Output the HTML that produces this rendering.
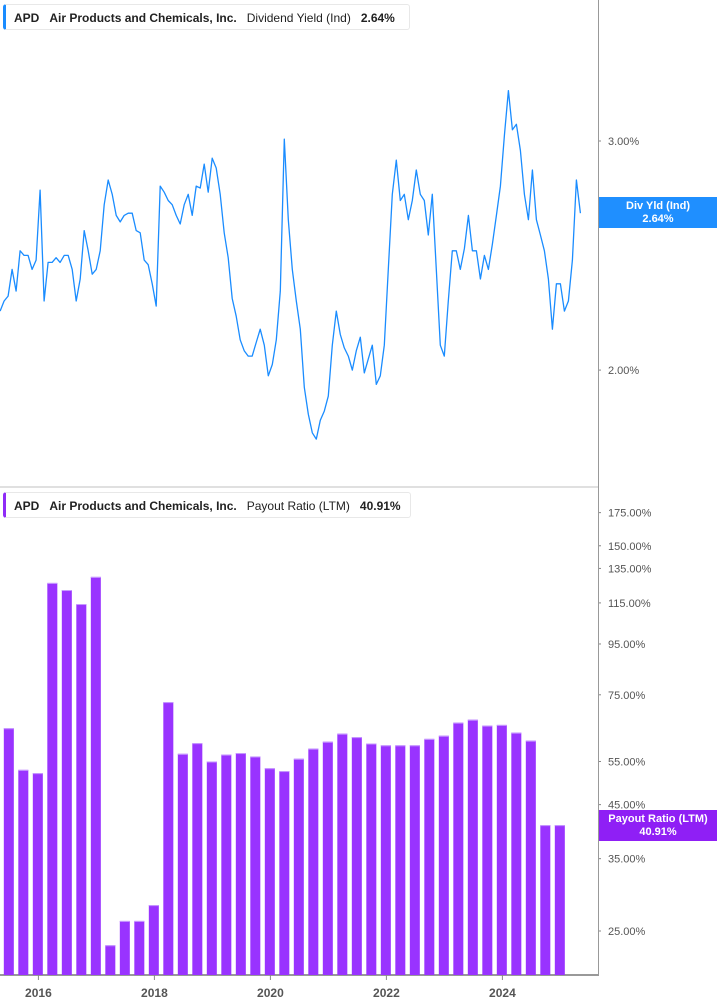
<!DOCTYPE html>
<html><head><meta charset="utf-8">
<style>
html,body{margin:0;padding:0;background:#fff;}
body{width:717px;height:1005px;position:relative;overflow:hidden;font-family:"Liberation Sans",sans-serif;}
.legend{position:absolute;left:3px;height:26px;background:#fff;border:1px solid #e8e8e8;border-left:3px solid #1a8cff;border-radius:3px;font-size:12px;line-height:26px;color:#222;white-space:nowrap;padding:0 10px 0 8px;box-sizing:border-box;}
.legend b{font-weight:bold;}
.lab{position:absolute;left:599px;width:118px;color:#fff;font-size:11px;font-weight:bold;text-align:center;line-height:13px;padding-top:3px;box-sizing:border-box;}
</style></head><body>
<svg id="chart" width="717" height="1005" style="position:absolute;left:0;top:0" xmlns="http://www.w3.org/2000/svg">
  <g id="topPanel"></g>
  <g id="botPanel"></g>
</svg>
<div class="legend" style="top:4px;width:407px;"><b>APD</b>&nbsp;&nbsp;&nbsp;<b>Air Products and Chemicals, Inc.</b>&nbsp;&nbsp;&nbsp;Dividend Yield (Ind)&nbsp;&nbsp;&nbsp;<b>2.64%</b></div>
<div class="legend" style="top:492px;width:408px;border-left-color:#8f2bf7;"><b>APD</b>&nbsp;&nbsp;&nbsp;<b>Air Products and Chemicals, Inc.</b>&nbsp;&nbsp;&nbsp;Payout Ratio (LTM)&nbsp;&nbsp;&nbsp;<b>40.91%</b></div>
<div class="lab" style="top:197px;height:31px;background:#1f8fff;">Div Yld (Ind)<br>2.64%</div>
<div class="lab" style="top:810px;height:31px;background:#8f1ff5;">Payout Ratio (LTM)<br>40.91%</div>
<script>
const yieldValues=[2.22,2.26,2.28,2.39,2.30,2.47,2.45,2.45,2.39,2.43,2.75,2.26,2.42,2.42,2.44,2.42,2.45,2.45,2.39,2.26,2.35,2.56,2.47,2.37,2.39,2.47,2.68,2.80,2.73,2.63,2.60,2.63,2.64,2.64,2.56,2.55,2.43,2.41,2.33,2.24,2.77,2.74,2.70,2.68,2.63,2.59,2.68,2.73,2.63,2.77,2.76,2.88,2.74,2.91,2.86,2.73,2.55,2.44,2.27,2.20,2.11,2.07,2.05,2.05,2.10,2.15,2.09,1.98,2.02,2.11,2.30,3.01,2.61,2.39,2.26,2.15,1.94,1.85,1.79,1.77,1.83,1.86,1.91,2.09,2.22,2.13,2.08,2.05,2.00,2.07,2.12,1.99,2.04,2.09,1.95,1.98,2.09,2.39,2.73,2.90,2.70,2.73,2.61,2.70,2.85,2.73,2.70,2.54,2.73,2.39,2.09,2.05,2.26,2.47,2.47,2.39,2.48,2.63,2.47,2.47,2.35,2.45,2.39,2.50,2.63,2.77,3.03,3.28,3.06,3.09,2.95,2.73,2.61,2.85,2.61,2.54,2.47,2.35,2.15,2.33,2.33,2.22,2.26,2.43,2.80,2.64];
const yieldStart=2015.34, yieldStep=0.069;
const yieldTicks=[2.0,3.0];
const yieldTickLabels=["2.00%","3.00%"];
const payoutValues=[64.2,52.9,52.1,126.2,122.1,114.4,129.8,23.4,26.2,26.2,28.2,72.5,57.0,59.9,55.0,56.8,57.2,56.3,53.3,52.6,55.7,58.4,60.3,62.6,61.6,59.8,59.3,59.3,59.3,61.1,62.0,65.9,66.8,65.0,65.2,62.9,60.6,40.91,40.91];
const payoutStart=2015.49, payoutStep=0.25;
const payoutTicks=[175,150,135,115,95,75,55,45,35,25];
const payoutTickLabels=["175.00%","150.00%","135.00%","115.00%","95.00%","75.00%","55.00%","45.00%","35.00%","25.00%"];
const yearTicks=[2016,2018,2020,2022,2024];

const NS="http://www.w3.org/2000/svg";
function mk(tag,attrs,parent){const e=document.createElementNS(NS,tag);for(const k in attrs)e.setAttribute(k,attrs[k]);parent.appendChild(e);return e;}
const xT=t=>38.4+(t-2016)*58;
const yTop=v=>141-565*Math.log(v/3);
const yBot=v=>931-215*Math.log(v/25);
const topG=document.getElementById('topPanel'), botG=document.getElementById('botPanel');

let a=mk('line',{x1:598.5,y1:0,x2:598.5,y2:975,stroke:'#999','stroke-width':1},topG);


let sep=mk('rect',{x:0,y:486,width:598,height:2,fill:'#e0e0e0'},topG);


let xa=mk('line',{x1:0,y1:975,x2:599,y2:975,stroke:'#999','stroke-width':2},botG);



yieldTicks.forEach((v,i)=>{
  const y=yTop(v);
  mk('rect',{x:599,y:y-0.5,width:2,height:1,fill:'#888'},topG);
  const t=mk('text',{x:608,y:y+4,'font-size':11,fill:'#555'},topG);
  t.textContent=yieldTickLabels[i];
  
  
});
payoutTicks.forEach((v,i)=>{
  const y=yBot(v);
  mk('rect',{x:599,y:y-0.5,width:2,height:1,fill:'#888'},botG);
  const t=mk('text',{x:608,y:y+4,'font-size':11,fill:'#555'},botG);
  t.textContent=payoutTickLabels[i];
  
  
});
yearTicks.forEach(yr=>{
  const x=xT(yr);
  mk('line',{x1:x,y1:975,x2:x,y2:980,stroke:'#888'},botG);
  const t=mk('text',{x:x,y:997,'font-size':12,'font-weight':'bold',fill:'#555','text-anchor':'middle'},botG);
  t.textContent=String(yr);
  
  
});

const pts=yieldValues.map((v,i)=>xT(yieldStart+i*yieldStep).toFixed(1)+','+yTop(v).toFixed(1)).join(' ');
const pl=mk('polyline',{points:pts,fill:'none',stroke:'#1a8cff','stroke-width':1.3,'stroke-linejoin':'round'},topG);



payoutValues.forEach((v,i)=>{
  const cx=xT(payoutStart+i*payoutStep);
  const y=yBot(v);
  const r=mk('rect',{x:cx-5,y:y,width:10,height:975-y,fill:'#9933ff'},botG);
  
  
  mk('rect',{x:cx-5,y:y,width:10,height:1,fill:'#c79bff'},botG);
});
</script>
</body></html>
